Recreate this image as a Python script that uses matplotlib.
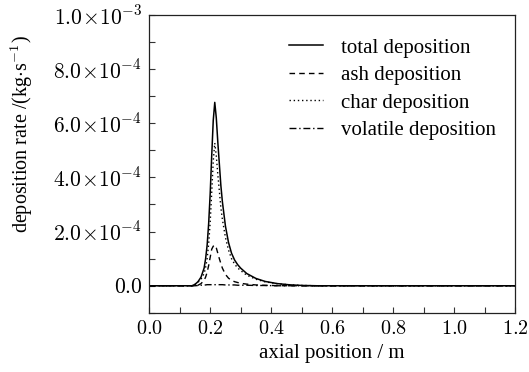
import matplotlib
matplotlib.use("Agg")
import matplotlib.pyplot as plt
import numpy as np

plt.rcParams['font.family'] = ['Liberation Serif', 'DejaVu Serif']
plt.rcParams['mathtext.fontset'] = 'cm'

# axial position (m)
x = [0.0, 0.14, 0.15, 0.16, 0.17, 0.18, 0.185, 0.19, 0.195, 0.20, 0.205, 0.21,
     0.215, 0.22, 0.225, 0.23, 0.235, 0.24, 0.25, 0.26, 0.27, 0.28, 0.29,
     0.30, 0.32, 0.35, 0.38, 0.42, 0.46, 0.50, 0.55, 0.60, 1.20]

# deposition rates (1e-4 kg/s)
total = [0.0, 0.0, 0.05, 0.15, 0.32, 0.65, 1.0, 1.5, 2.3, 3.4, 4.8, 6.1,
         6.77, 6.2, 5.3, 4.5, 3.7, 3.1, 2.2, 1.6, 1.2, 0.95, 0.78,
         0.65, 0.45, 0.27, 0.16, 0.08, 0.035, 0.012, 0.0, 0.0, 0.0]
ash = [0.0, 0.0, 0.0, 0.02, 0.08, 0.2, 0.32, 0.5, 0.75, 1.05, 1.35, 1.46,
       1.5, 1.4, 1.2, 1.0, 0.82, 0.65, 0.42, 0.28, 0.2, 0.15, 0.12,
       0.09, 0.06, 0.03, 0.015, 0.005, 0.0, 0.0, 0.0, 0.0, 0.0]
char = [0.0, 0.0, 0.05, 0.13, 0.24, 0.45, 0.68, 1.0, 1.55, 2.35, 3.45, 4.6,
        5.27, 4.8, 4.1, 3.5, 2.88, 2.45, 1.78, 1.32, 1.0, 0.8, 0.66,
        0.56, 0.39, 0.24, 0.145, 0.075, 0.035, 0.012, 0.0, 0.0, 0.0]
volatile = [0.0, 0.0, 0.0, 0.01, 0.02, 0.03, 0.03, 0.04, 0.04, 0.04, 0.04, 0.04,
            0.04, 0.04, 0.04, 0.04, 0.04, 0.04, 0.03, 0.03, 0.03, 0.03, 0.02,
            0.02, 0.02, 0.01, 0.01, 0.0, 0.0, 0.0, 0.0, 0.0, 0.0]

labels = ["total deposition", "ash deposition", "char deposition", "volatile deposition"]

xticks = [0.0, 0.2, 0.4, 0.6, 0.8, 1.0, 1.2]
xticklabels = ["$0.0$", "$0.2$", "$0.4$", "$0.6$", "$0.8$", "$1.0$", "$1.2$"]
yticks = [0.0, 2e-4, 4e-4, 6e-4, 8e-4, 1e-3]
yticklabels = ["$0.0$", r"$2.0\!\times\!10^{-4}$", r"$4.0\!\times\!10^{-4}$",
               r"$6.0\!\times\!10^{-4}$", r"$8.0\!\times\!10^{-4}$", r"$1.0\!\times\!10^{-3}$"]

fig = plt.figure(figsize=(5.29, 3.72), dpi=100)
ax = fig.add_axes([0.282, 0.159, 0.692, 0.801])

scale = 1e-4
xa = np.array(x)
ax.plot(xa, np.array(total) * scale, color='black', lw=1.1, ls='-', label=labels[0])
ax.plot(xa, np.array(ash) * scale, color='black', lw=1.0, ls=(0, (4, 3)), label=labels[1])
ax.plot(xa, np.array(char) * scale, color='black', lw=1.0, ls=(0, (1, 2)), label=labels[2])
ax.plot(xa, np.array(volatile) * scale, color='black', lw=1.0, ls=(0, (5, 2, 1, 2)), label=labels[3])

ax.set_xlim(0, 1.2)
ax.set_ylim(-1e-4, 1e-3)
ax.set_xticks(xticks)
ax.set_xticklabels(xticklabels)
ax.set_xticks(np.arange(0.1, 1.2, 0.2), minor=True)
ax.set_yticks(yticks)
ax.set_yticklabels(yticklabels)
ax.set_yticks(np.arange(-1e-4, 1e-3, 2e-4), minor=True)

ax.tick_params(which='both', direction='in', top=False, right=False,
               labelsize=15.5, width=0.8, color='#333333')
ax.tick_params(axis='x', labelsize=14.5)
ax.tick_params(which='major', length=4, pad=5)
ax.tick_params(which='minor', length=4)
for s in ax.spines.values():
    s.set_linewidth(0.9)
    s.set_color('#222222')

ax.set_xlabel("axial position / m", fontsize=15, labelpad=4)
ax.set_ylabel(r"deposition rate /(kg$\cdot$s$^{-1}$)", fontsize=14.5)
ax.yaxis.set_label_coords(-0.312, 0.6)

ax.legend(loc='upper left', bbox_to_anchor=(0.383, 0.922), frameon=False,
          fontsize=15, handlelength=1.6, handletextpad=0.9, labelspacing=0.38,
          borderpad=0, borderaxespad=0)

fig.savefig("out.png", dpi=100)
